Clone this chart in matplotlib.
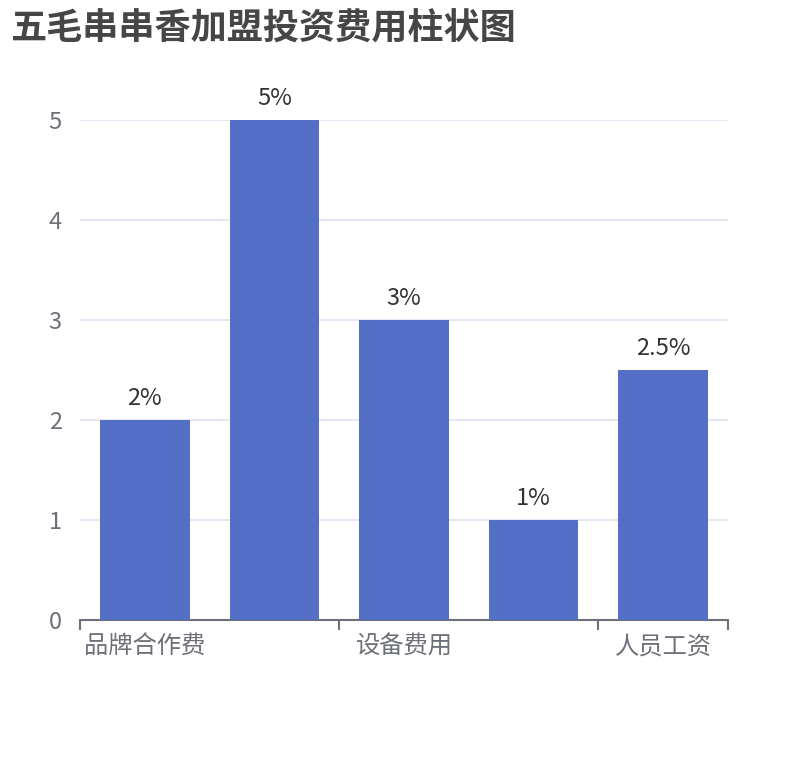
import matplotlib.pyplot as plt
import numpy as np

plt.rcParams['font.family'] = ['Noto Sans CJK SC', 'DejaVu Sans']

# 数据
categories = ['品牌合作费', '加盟费', '设备费用', '店面租金', '人员工资']
values = [2, 5, 3, 1, 2.5]
value_labels = ['2%', '5%', '3%', '1%', '2.5%']
shown_idx = [0, 2, 4]  # 轴标签隔一个显示

fig = plt.figure(figsize=(8.1, 7.6), dpi=100)
ax = fig.add_axes([80 / 810, 1 - 620 / 760, 648 / 810, 500 / 760])

x = np.arange(len(categories))
bars = ax.bar(x, values, width=0.69, color='#5470c6', zorder=3)

for b, lab in zip(bars, value_labels):
    ax.annotate(lab, (b.get_x() + b.get_width() / 2, b.get_height()),
                xytext=(0, 7), textcoords='offset points',
                ha='center', va='bottom', fontsize=17, color='#333333')

ax.set_xlim(-0.5, len(categories) - 0.5)
ax.set_ylim(0, 5)
ax.set_yticks([0, 1, 2, 3, 4, 5])
ax.grid(axis='y', color='#e0e6f1', linewidth=1.3, zorder=0)
ax.tick_params(axis='y', length=0, pad=13, labelsize=17, labelcolor='#6e7079')

# 刻度在类目边界，标签在类目中心
ax.set_xticks([-0.5, 1.5, 3.5, 4.5])
ax.set_xticklabels([])
ax.tick_params(axis='x', which='major', length=7, width=1.5, color='#6e7079')
ax.set_xticks(shown_idx, [categories[i] for i in shown_idx], minor=True)
ax.tick_params(axis='x', which='minor', length=0, pad=10, labelsize=17.5, labelcolor='#6e7079')

for s in ['top', 'right', 'left']:
    ax.spines[s].set_visible(False)
ax.spines['bottom'].set_color('#6e7079')
ax.spines['bottom'].set_linewidth(1.5)

fig.text(10 / 810, 1 - 29 / 760, '五毛串串香加盟投资费用柱状图', fontsize=26,
         fontweight='heavy', color='#464646', ha='left', va='center')

fig.savefig('out.png', dpi=100)
